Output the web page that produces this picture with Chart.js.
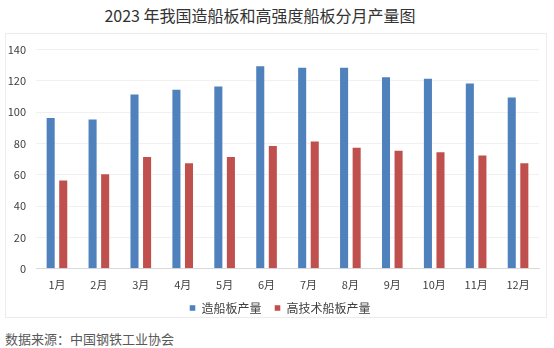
<!DOCTYPE html>
<html>
<head>
<meta charset="utf-8">
<script src="https://cdn.jsdelivr.net/npm/chart.js@4.4.1/dist/chart.umd.min.js"></script>
<style>
  body { margin: 0; background: #fff; width: 554px; height: 348px; position: relative; overflow: hidden;
         font-family: "Noto Sans CJK SC", "Noto Sans", sans-serif; }
  #title { position: absolute; left: 0; width: 520px; top: 3px; text-align: center; font-size: 16px; color: #333; }
  #box { position: absolute; left: 5px; top: 33px; width: 542px; height: 285px; border: 1px solid #ececec; box-sizing: border-box; }
  #chart { position: absolute; left: 5px; top: 33px; }
  #source { position: absolute; left: 5px; top: 329px; font-size: 13px; color: #595959; }
</style>
</head>
<body>
<div id="title">2023 年我国造船板和高强度船板分月产量图</div>
<div id="box"></div>
<canvas id="chart" width="542" height="285"></canvas>
<div id="source">数据来源：中国钢铁工业协会</div>
<script>
const months = ['1月', '2月', '3月', '4月', '5月', '6月', '7月', '8月', '9月', '10月', '11月', '12月'];
const shipPlate = [97, 96, 112, 115, 117, 130, 129, 129, 123, 122, 119, 110];
const highTechPlate = [57, 61, 72, 68, 72, 79, 82, 78, 76, 75, 73, 68];
const yTicks = [0, 20, 40, 60, 80, 100, 120, 140];

const font = "'Noto Sans CJK SC', 'Noto Sans', sans-serif";

// legend sits closer to the axis labels (and a bit right) compared to chart.js default
const legendLift = 11;
const legendShift = 8;
const moveLegend = {
    id: 'moveLegend',
    afterLayout(chart) {
        const lg = chart.legend;
        lg.top -= legendLift;
        lg.bottom -= legendLift;
        lg.left += legendShift;
        lg.right += legendShift;
    }
};

const ctx = document.getElementById('chart').getContext('2d');
new Chart(ctx, {
    type: 'bar',
    data: {
        labels: months,
        datasets: [{
            label: '造船板产量',
            data: shipPlate,
            backgroundColor: '#4F81BD',
            borderColor: 'rgba(255,255,255,0.45)',
            borderWidth: 1,
            barPercentage: 0.8,
            categoryPercentage: 0.6
        }, {
            label: '高技术船板产量',
            data: highTechPlate,
            backgroundColor: '#C0504D',
            borderColor: 'rgba(255,255,255,0.45)',
            borderWidth: 1,
            barPercentage: 0.8,
            categoryPercentage: 0.6
        }]
    },
    plugins: [moveLegend],
    options: {
        responsive: false,
        animation: false,
        layout: {
            padding: { top: 12, right: 8, left: 0, bottom: -6 - legendLift }
        },
        plugins: {
            legend: {
                position: 'bottom',
                labels: {
                    boxWidth: 6,
                    boxHeight: 6,
                    padding: 13,
                    color: '#404040',
                    font: { family: font, size: 12 }
                }
            },
            tooltip: { enabled: false }
        },
        scales: {
            x: {
                grid: { display: false, drawTicks: false },
                border: { color: '#d9d9d9' },
                ticks: {
                    color: '#404040',
                    padding: 9,
                    maxRotation: 0,
                    font: { family: font, size: 11 }
                }
            },
            y: {
                min: 0,
                max: 140,
                afterBuildTicks: scale => {
                    scale.ticks = yTicks.map(v => ({ value: v }));
                },
                afterFit: scale => { scale.width = 31; },
                grid: { color: '#f0f0f0', drawTicks: false },
                border: { display: false },
                ticks: {
                    color: '#404040',
                    padding: 10,
                    font: { family: font, size: 11 }
                }
            }
        }
    }
});
</script>
</body>
</html>
